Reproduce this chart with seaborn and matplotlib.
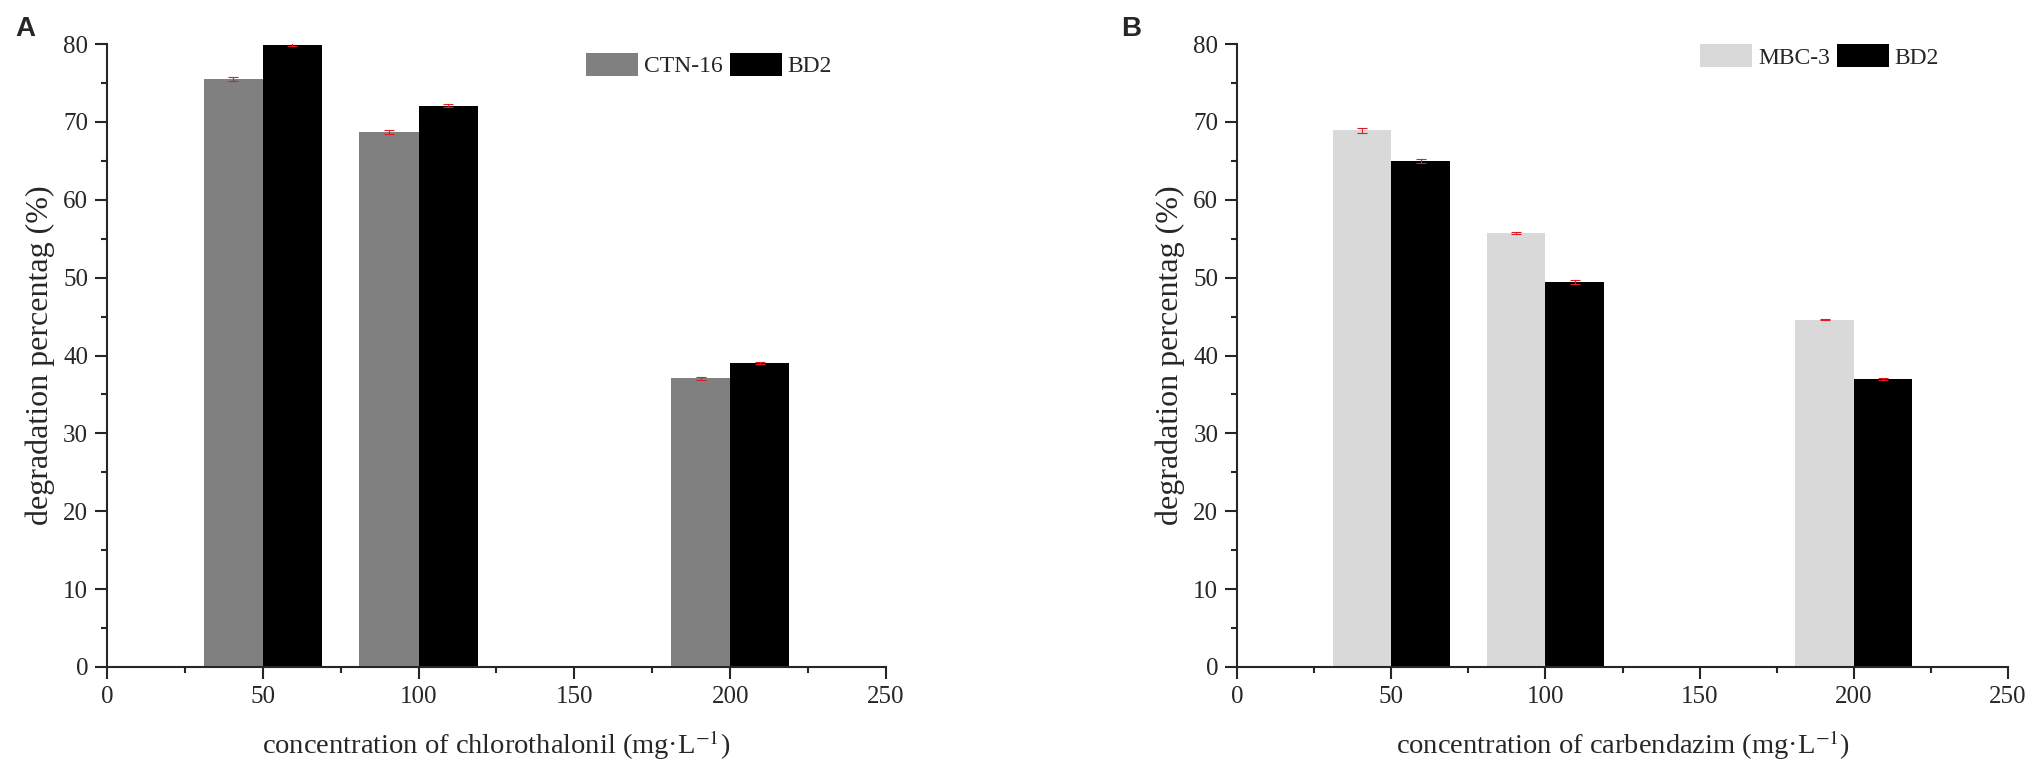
import seaborn as sns
import matplotlib.pyplot as plt
from matplotlib.ticker import MultipleLocator
import pandas as pd

# data
concentrations = [50, 100, 200]

strains_a = ["CTN-16", "BD2"]
ctn16_values = [75.5, 68.7, 37.1]
ctn16_errors = [0.3, 0.2, 0.2]
bd2_a_values = [79.9, 72.1, 39.0]
bd2_a_errors = [0.2, 0.2, 0.15]

strains_b = ["MBC-3", "BD2"]
mbc3_values = [68.9, 55.7, 44.6]
mbc3_errors = [0.3, 0.1, 0.1]
bd2_b_values = [65.0, 49.4, 37.0]
bd2_b_errors = [0.25, 0.25, 0.15]

sns.set_style("ticks")
plt.rcParams["font.family"] = ["Liberation Serif", "DejaVu Serif"]
plt.rcParams["mathtext.fontset"] = "stix"
plt.rcParams["axes.linewidth"] = 1.5


def make_df(strains, v1, v2):
    return pd.DataFrame({
        "conc": concentrations * 2,
        "value": v1 + v2,
        "strain": [strains[0]] * 3 + [strains[1]] * 3,
    })


def draw_panel(ax, df, strains, colors, errs, xlabel, legend_anchor):
    sns.barplot(data=df, x="conc", y="value", hue="strain", hue_order=strains,
                native_scale=True, width=0.76, palette=colors, saturation=1,
                linewidth=0, errorbar=None, ax=ax)
    # red error bars on top of each bar
    for cont, err in zip(ax.containers, errs):
        xs = [p.get_x() + p.get_width() / 2 for p in cont]
        hs = [p.get_height() for p in cont]
        ax.errorbar(xs, hs, yerr=err, fmt="none", ecolor="#e01b24",
                    elinewidth=0.8, capsize=3.5, capthick=0.8, zorder=5)
    ax.set_xlim(0, 250)
    ax.set_ylim(0, 80)
    ax.xaxis.set_major_locator(MultipleLocator(50))
    ax.xaxis.set_minor_locator(MultipleLocator(25))
    ax.yaxis.set_major_locator(MultipleLocator(10))
    ax.yaxis.set_minor_locator(MultipleLocator(5))
    ax.tick_params(which="major", direction="out", length=8.5, width=1.5,
                   labelsize=18, pad=5)
    ax.tick_params(which="minor", direction="out", length=4.5, width=1.5)
    ax.set_xlabel(xlabel, fontsize=20.5, labelpad=15)
    ax.set_ylabel("degradation percentag (%)", fontsize=23, labelpad=6)
    sns.despine(ax=ax)
    sns.move_legend(ax, "upper left", bbox_to_anchor=legend_anchor, ncol=2,
                    frameon=False, title=None, fontsize=17, borderpad=0,
                    borderaxespad=0, handlelength=2.2, handleheight=1.15,
                    handletextpad=0.25, columnspacing=0.3)


fig = plt.figure(figsize=(20.33, 7.71), dpi=100)
ax_a = fig.add_axes([0.0526, 0.1349, 0.3832, 0.808])
ax_b = fig.add_axes([0.6085, 0.1349, 0.3792, 0.808])

draw_panel(ax_a, make_df(strains_a, ctn16_values, bd2_a_values), strains_a,
           ["#808080", "#000000"], [ctn16_errors, bd2_a_errors],
           r"concentration of chlorothalonil (mg·L$^{\mathrm{-1}}$)", (0.615, 0.986))
draw_panel(ax_b, make_df(strains_b, mbc3_values, bd2_b_values), strains_b,
           ["#d9d9d9", "#000000"], [mbc3_errors, bd2_b_errors],
           r"concentration of carbendazim (mg·L$^{\mathrm{-1}}$)", (0.6005, 1.0))

fig.text(0.0123, 0.963, "A", fontsize=20, fontweight="bold",
         family=["Liberation Sans", "DejaVu Sans"], va="center", ha="center")
fig.text(0.5563, 0.963, "B", fontsize=20, fontweight="bold",
         family=["Liberation Sans", "DejaVu Sans"], va="center", ha="center")

fig.savefig("out.png", dpi=100)
plt.close(fig)
